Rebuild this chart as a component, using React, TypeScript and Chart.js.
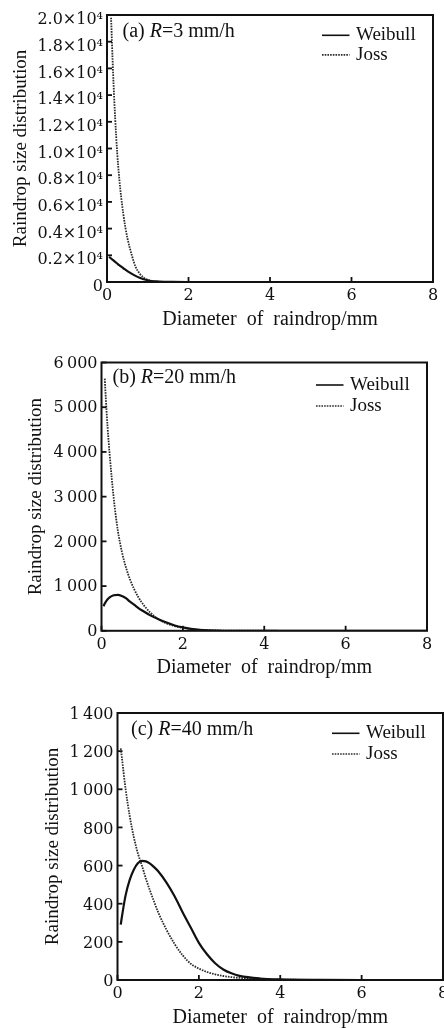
import React, { useEffect, useRef } from "react";
import { Chart, registerables } from "chart.js";

Chart.register(...registerables);

// ---------- data ----------
const xTickValues = [0, 2, 4, 6, 8];
const xTickLabels = ["0", "2", "4", "6", "8"];

// (a) R = 3 mm/h
const diameterA = [0.05, 0.1, 0.15, 0.2, 0.25, 0.3, 0.35, 0.4, 0.45, 0.5, 0.6, 0.7, 0.8, 0.9, 1.0, 1.1, 1.2, 1.4, 1.6, 2.0, 3.0, 4.0, 5.0, 6.0, 7.0, 8.0];
const weibullA = [1880, 1760, 1635, 1510, 1385, 1260, 1145, 1030, 925, 820, 630, 460, 320, 210, 130, 75, 40, 10, 3, 0.5, 0, 0, null, null, null, null];
const jossA = [null, 19800, 15600, 12300, 9700, 7800, 6300, 5100, 4100, 3300, 2100, 1150, 640, 330, 160, 70, 30, 8, 2, 0.5, 0, 0, 0, 0, 0, 0];
const yTickValuesA = [0, 2000, 4000, 6000, 8000, 10000, 12000, 14000, 16000, 18000, 20000];
const yTickLabelsA = ["0", "0.2×10⁴", "0.4×10⁴", "0.6×10⁴", "0.8×10⁴", "1.0×10⁴", "1.2×10⁴", "1.4×10⁴", "1.6×10⁴", "1.8×10⁴", "2.0×10⁴"];

// (b) R = 20 mm/h
const diameterB = [0.05, 0.08, 0.1, 0.15, 0.2, 0.3, 0.4, 0.5, 0.6, 0.7, 0.8, 0.9, 1.0, 1.2, 1.4, 1.6, 1.8, 2.0, 2.2, 2.4, 2.6, 3.0, 4.0, 5.0, 6.0, 7.0, 8.0];
const weibullB = [550, 610, 640, 705, 750, 795, 805, 780, 730, 650, 585, 515, 455, 345, 260, 185, 120, 75, 42, 20, 8, 1, 0, 0, 0, 0, 0];
const jossB = [null, 5640, 5300, 4550, 3950, 2970, 2250, 1770, 1420, 1150, 935, 760, 620, 405, 260, 165, 105, 66, 40, 24, 14, 5, 1, 0.3, 0, 0, 0];
const yTickValuesB = [0, 1000, 2000, 3000, 4000, 5000, 6000];
const yTickLabelsB = ["0", "1\u2009000", "2\u2009000", "3\u2009000", "4\u2009000", "5\u2009000", "6\u2009000"];

// (c) R = 40 mm/h
const diameterC = [0.08, 0.1, 0.2, 0.3, 0.4, 0.5, 0.6, 0.7, 0.8, 0.9, 1.0, 1.2, 1.4, 1.6, 1.8, 2.0, 2.2, 2.4, 2.6, 2.8, 3.0, 3.5, 4.0, 5.0, 6.0, 7.0, 8.0];
const weibullC = [290, 320, 445, 525, 578, 612, 625, 622, 610, 592, 570, 512, 440, 355, 275, 195, 135, 88, 55, 35, 22, 8, 3, 0.5, 0, 0, 0];
const jossC = [1215, 1180, 1000, 860, 750, 665, 600, 530, 468, 410, 355, 265, 190, 130, 85, 60, 42, 30, 21, 15, 11, 5, 2, 0.8, 0.3, 0.1, 0];
const yTickValuesC = [0, 200, 400, 600, 800, 1000, 1200, 1400];
const yTickLabelsC = ["0", "200", "400", "600", "800", "1\u2009000", "1\u2009200", "1\u2009400"];

const seriesNames = ["Weibull", "Joss"];
const xTitle = "Diameter  of  raindrop/mm";
const yTitle = "Raindrop size distribution";

// ---------- styling ----------
const W = 444;
const INK = "#111";
const SERIF = '"Liberation Serif", "Times New Roman", serif';
const TICKFONT = '"DejaVu Serif", serif';

type LabelPart = { text: string; italic?: boolean };
type PanelSpec = {
  top: number;
  height: number;
  plotLeft: number;
  plotRight: number;
  plotTop: number;
  plotBottom: number;
  xTitlePad: number;
  yTitlePad: number;
  yLabelOffset: number;
  labelDx: number;
  labelDy: number;
  legendDy: number;
  legendGap: number;
  label: LabelPart[];
  diameters: number[];
  weibull: (number | null)[];
  joss: (number | null)[];
  yMax: number;
  yTickValues: number[];
  yTickLabels: string[];
};

const panels: PanelSpec[] = [
  {
    top: 0, height: 340,
    plotLeft: 107, plotRight: 433, plotTop: 15, plotBottom: 282,
    xTitlePad: 10, yTitlePad: 12, yLabelOffset: 5,
    labelDx: 15.5, labelDy: 16.6, legendDy: 20.3, legendGap: 19.6,
    label: [{ text: "(a) " }, { text: "R", italic: true }, { text: "=3 mm/h" }],
    diameters: diameterA, weibull: weibullA, joss: jossA,
    yMax: 20000, yTickValues: yTickValuesA, yTickLabels: yTickLabelsA,
  },
  {
    top: 340, height: 340,
    plotLeft: 101.5, plotRight: 427, plotTop: 22.5, plotBottom: 290.8,
    xTitlePad: 2, yTitlePad: 26.8, yLabelOffset: 1,
    labelDx: 11, labelDy: 15.1, legendDy: 22.5, legendGap: 21,
    label: [{ text: "(b) " }, { text: "R", italic: true }, { text: "=20 mm/h" }],
    diameters: diameterB, weibull: weibullB, joss: jossB,
    yMax: 6000, yTickValues: yTickValuesB, yTickLabels: yTickLabelsB,
  },
  {
    top: 680, height: 348,
    plotLeft: 117.5, plotRight: 443, plotTop: 33, plotBottom: 300,
    xTitlePad: 0, yTitlePad: 43.5, yLabelOffset: 2,
    labelDx: 13.5, labelDy: 16.9, legendDy: 20.3, legendGap: 20.7,
    label: [{ text: "(c) " }, { text: "R", italic: true }, { text: "=40 mm/h" }],
    diameters: diameterC, weibull: weibullC, joss: jossC,
    yMax: 1400, yTickValues: yTickValuesC, yTickLabels: yTickLabelsC,
  },
];

function makeDecor(spec: PanelSpec) {
  return {
    id: "decor",
    afterDatasetsDraw(chart: any) {
      const { ctx, chartArea } = chart;
      const { left, right, top, bottom } = chartArea;
      const xs = chart.scales.x;
      const ys = chart.scales.y;
      ctx.save();
      ctx.setLineDash([]);
      ctx.strokeStyle = INK;
      ctx.lineWidth = 2;
      ctx.strokeRect(left, top, right - left, bottom - top);
      ctx.lineWidth = 1.8;
      xs.ticks.forEach((t: any) => {
        const px = xs.getPixelForValue(t.value);
        ctx.beginPath();
        ctx.moveTo(px, bottom);
        ctx.lineTo(px, bottom - 5);
        ctx.stroke();
      });
      ys.ticks.forEach((t: any) => {
        const py = ys.getPixelForValue(t.value);
        ctx.beginPath();
        ctx.moveTo(left, py);
        ctx.lineTo(left + 5, py);
        ctx.stroke();
      });

      // panel label
      ctx.fillStyle = INK;
      ctx.textBaseline = "middle";
      ctx.textAlign = "left";
      let x = left + spec.labelDx;
      const y = top + spec.labelDy;
      spec.label.forEach((p) => {
        ctx.font = (p.italic ? "italic " : "") + "20px " + SERIF;
        ctx.fillText(p.text, x, y);
        x += ctx.measureText(p.text).width;
      });

      // legend
      ctx.font = "19px " + SERIF;
      chart.data.datasets.forEach((ds: any, i: number) => {
        const ly = top + spec.legendDy + i * spec.legendGap;
        ctx.strokeStyle = ds.borderColor;
        ctx.lineWidth = i === 0 ? 1.6 : 1.6;
        ctx.setLineDash(ds.borderDash || []);
        ctx.beginPath();
        ctx.moveTo(right - 111, ly);
        ctx.lineTo(right - 83.5, ly);
        ctx.stroke();
        ctx.setLineDash([]);
        ctx.fillStyle = INK;
        ctx.fillText(ds.label, right - 77, ly);
      });
      ctx.restore();
    },
  };
}

function Panel({ spec }: { spec: PanelSpec }) {
  const ref = useRef<HTMLCanvasElement>(null);
  useEffect(() => {
    const canvas = ref.current;
    if (!canvas) return;
    const toPoints = (vals: (number | null)[]) =>
      spec.diameters.map((d, i) => ({ x: d, y: vals[i] }));
    const chart = new Chart(canvas, {
      type: "line",
      data: {
        datasets: [
          {
            label: seriesNames[0],
            data: toPoints(spec.weibull) as any,
            borderColor: "#111",
            borderWidth: 2.2,
            pointRadius: 0,
            cubicInterpolationMode: "monotone",
            fill: false,
          },
          {
            label: seriesNames[1],
            data: toPoints(spec.joss) as any,
            borderColor: "#2a2a2a",
            borderWidth: 1.8,
            borderDash: [1.6, 1.1],
            pointRadius: 0,
            cubicInterpolationMode: "monotone",
            fill: false,
          },
        ],
      },
      options: {
        responsive: false,
        animation: false,
        events: [],
        layout: {
          padding: { left: 0, top: spec.plotTop, right: W - spec.plotRight, bottom: 0 },
        },
        plugins: {
          legend: { display: false },
          tooltip: { enabled: false },
          title: { display: false },
        },
        scales: {
          x: {
            type: "linear",
            min: 0,
            max: 8,
            grid: { display: false, drawTicks: false },
            border: { display: false },
            afterBuildTicks: (s: any) => {
              s.ticks = xTickValues.map((v) => ({ value: v }));
            },
            afterFit: (s: any) => {
              s.height = spec.height - spec.plotBottom;
              s.paddingLeft = 0;
              s.paddingRight = 0;
            },
            ticks: {
              color: INK,
              font: { family: TICKFONT, size: 16 },
              padding: 4,
              maxRotation: 0,
              autoSkip: false,
              callback: (v: any) => xTickLabels[xTickValues.indexOf(Number(v))] ?? "",
            },
            title: {
              display: true,
              text: xTitle,
              color: INK,
              font: { family: SERIF, size: 20, lineHeight: 1 },
              padding: { top: 0, bottom: spec.xTitlePad },
            },
          },
          y: {
            type: "linear",
            min: 0,
            max: spec.yMax,
            grid: { display: false, drawTicks: false },
            border: { display: false },
            afterBuildTicks: (s: any) => {
              s.ticks = spec.yTickValues.map((v) => ({ value: v }));
            },
            afterFit: (s: any) => {
              s.width = spec.plotLeft;
              s.paddingTop = 0;
              s.paddingBottom = 0;
            },
            ticks: {
              color: INK,
              font: { family: TICKFONT, size: 16 },
              padding: 4,
              autoSkip: false,
              labelOffset: spec.yLabelOffset,
              callback: (v: any) => spec.yTickLabels[spec.yTickValues.indexOf(Number(v))] ?? "",
            },
            title: {
              display: true,
              text: yTitle,
              color: INK,
              font: { family: SERIF, size: 19, lineHeight: 1 },
              padding: { top: spec.yTitlePad, bottom: 0 },
            },
          },
        },
      },
      plugins: [makeDecor(spec)],
    } as any);
    return () => chart.destroy();
  }, [spec]);
  return (
    <div style={{ position: "absolute", left: 0, top: spec.top, width: W, height: spec.height }}>
      <canvas ref={ref} width={W} height={spec.height} style={{ display: "block" }} />
    </div>
  );
}

export default function App() {
  return (
    <div style={{ position: "absolute", left: 0, top: 0, width: W, height: 1028, background: "#fff", overflow: "hidden" }}>
      {panels.map((p, i) => (
        <Panel key={i} spec={p} />
      ))}
    </div>
  );
}
